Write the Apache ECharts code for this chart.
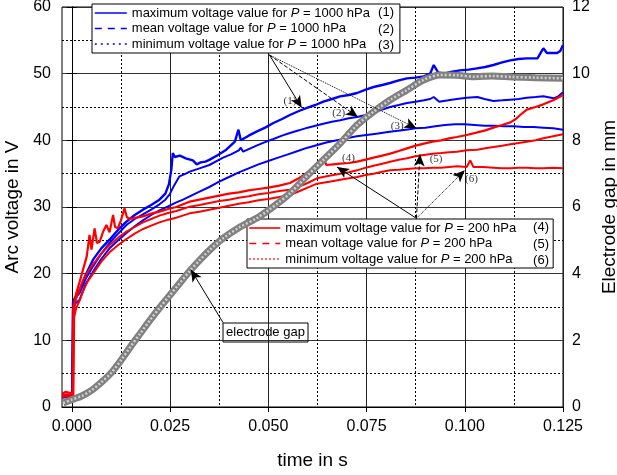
<!DOCTYPE html>
<html>
<head>
<meta charset="utf-8">
<script src="https://cdn.jsdelivr.net/npm/echarts@6/dist/echarts.min.js"></script>
<style>
html, body { margin: 0; padding: 0; background: #fff; }
#chart { width: 617px; height: 475px; }
</style>
</head>
<body>
<div id="chart"></div>
<script>
// time in s, arc voltage in V
const max1000 = [
  [-0.0025,1.6],[-0.0012,1.7],[0.0001,1.6],[0.0003,15.8],[0.0008,16.4],[0.002,17.6],[0.0035,19.8],[0.0054,22.1],
  [0.0075,23.8],[0.0096,25.1],[0.0118,26.6],[0.0139,27.8],[0.016,28.8],[0.0181,29.6],[0.0202,30.3],[0.0223,31.1],
  [0.0238,32.0],[0.0247,33.4],[0.0253,35.5],[0.0257,38.1],[0.0262,37.5],[0.0275,37.7],[0.029,37.3],[0.0308,37.0],
  [0.0318,36.4],[0.0328,36.7],[0.034,36.8],[0.0351,37.1],[0.0372,37.8],[0.0393,38.6],[0.0415,39.8],[0.0424,41.6],
  [0.043,40.0],[0.045,40.7],[0.047,41.3],[0.0492,41.9],[0.0513,42.6],[0.0535,43.2],[0.0555,43.8],[0.0578,44.4],
  [0.060,44.9],[0.062,45.3],[0.064,45.8],[0.0662,46.2],[0.0683,46.6],[0.0705,46.8],[0.0726,47.1],[0.0748,47.6],
  [0.0768,48.0],[0.079,48.3],[0.081,48.6],[0.0832,49.0],[0.0853,49.3],[0.0875,49.4],[0.0896,49.6],[0.0912,50.0],
  [0.0921,51.3],[0.0932,50.2],[0.0947,50.0],[0.0968,50.3],[0.0988,50.5],[0.101,50.6],[0.1031,50.8],[0.1052,51.0],
  [0.1073,51.3],[0.1095,51.7],[0.1116,52.0],[0.1137,52.2],[0.1158,52.3],[0.1185,52.3],[0.1195,53.3],[0.120,53.8],
  [0.1209,53.1],[0.1235,53.1],[0.1243,53.4],[0.125,54.3]
];
const mean1000 = [
  [-0.0025,1.5],[-0.0012,1.6],[0.0001,1.5],[0.0003,15.2],[0.0008,16.2],[0.002,17.1],[0.0035,19.2],[0.0054,21.1],
  [0.0075,23.0],[0.0096,24.6],[0.0118,26.0],[0.0139,27.3],[0.016,28.2],[0.0181,28.9],[0.0202,29.6],[0.0223,30.4],
  [0.0238,31.1],[0.0249,31.9],[0.026,33.2],[0.0274,34.6],[0.029,35.0],[0.030,35.3],[0.0325,35.8],[0.035,36.3],
  [0.0385,37.4],[0.0405,37.9],[0.0425,38.5],[0.043,38.9],[0.0436,38.3],[0.047,39.2],[0.049,39.7],[0.0513,40.2],
  [0.0535,40.7],[0.0555,41.1],[0.0578,41.5],[0.060,41.9],[0.062,42.2],[0.064,42.5],[0.0662,42.8],[0.0683,43.0],
  [0.0705,43.3],[0.0726,43.5],[0.0748,43.8],[0.0768,44.2],[0.079,44.6],[0.081,45.0],[0.0832,45.3],[0.0853,45.6],
  [0.0875,45.8],[0.0896,46.0],[0.0912,46.2],[0.0921,46.5],[0.0935,45.8],[0.0958,46.0],[0.098,46.2],[0.1005,46.4],
  [0.1032,46.5],[0.105,46.2],[0.1073,45.9],[0.1095,46.0],[0.1116,46.1],[0.1137,46.2],[0.1158,46.4],[0.118,46.5],
  [0.120,46.6],[0.1226,46.3],[0.1238,46.6],[0.125,47.2]
];
const min1000 = [
  [-0.0025,1.4],[-0.0012,1.5],[0.0001,1.4],[0.0004,14.6],[0.0008,15.5],[0.002,16.1],[0.0035,18.4],[0.0054,20.3],
  [0.0075,22.2],[0.0096,23.8],[0.0118,25.0],[0.0139,26.1],[0.016,27.1],[0.0181,28.0],[0.0202,28.8],[0.0223,29.5],
  [0.0245,30.1],[0.0266,30.7],[0.0283,31.1],[0.030,31.6],[0.0325,32.3],[0.035,33.0],[0.0375,33.8],[0.040,34.5],
  [0.0425,35.2],[0.045,35.8],[0.0475,36.4],[0.050,36.9],[0.0525,37.4],[0.055,37.9],[0.0575,38.4],[0.060,38.9],
  [0.0625,39.3],[0.065,39.7],[0.0675,40.0],[0.070,40.3],[0.0725,40.6],[0.075,40.8],[0.0775,41.0],[0.080,41.2],
  [0.0825,41.4],[0.085,41.6],[0.0875,41.8],[0.090,41.9],[0.0925,42.1],[0.095,42.3],[0.0975,42.4],[0.100,42.4],
  [0.1025,42.3],[0.105,42.2],[0.1075,42.2],[0.110,42.1],[0.1125,42.1],[0.115,42.0],[0.1175,42.0],[0.120,41.9],
  [0.1225,41.8],[0.125,41.6]
];
const max200 = [
  [-0.0025,2.0],[-0.0015,2.3],[-0.0005,2.1],[0.0002,2.2],[0.0004,15.0],[0.0011,17.0],[0.002,18.8],[0.0028,20.5],
  [0.0038,22.6],[0.0045,25.8],[0.005,23.6],[0.0058,26.8],[0.0064,24.6],[0.0071,24.8],[0.0079,26.2],[0.0088,27.3],
  [0.0096,26.2],[0.0105,28.8],[0.011,27.0],[0.0117,26.8],[0.0125,28.0],[0.0134,29.8],[0.014,28.5],[0.0147,28.2],
  [0.0164,28.4],[0.0181,28.6],[0.0202,29.0],[0.0223,29.3],[0.0245,29.7],[0.0266,30.0],[0.0283,30.4],[0.030,30.8],
  [0.0325,31.1],[0.035,31.4],[0.0375,31.7],[0.040,32.0],[0.0425,32.2],[0.045,32.5],[0.0475,32.7],[0.050,32.9],
  [0.0528,33.2],[0.0555,33.6],[0.058,34.4],[0.061,35.6],[0.0625,36.0],[0.0635,36.4],[0.064,37.3],[0.0648,36.3],
  [0.0665,36.4],[0.0683,36.5],[0.0705,36.6],[0.0726,36.8],[0.0748,37.1],[0.0768,37.4],[0.079,37.7],[0.081,38.0],
  [0.0832,38.4],[0.0853,38.8],[0.0875,39.2],[0.0896,39.5],[0.0918,39.8],[0.094,40.0],[0.096,40.3],[0.098,40.5],
  [0.1005,40.8],[0.1032,41.2],[0.1052,41.5],[0.1073,41.9],[0.1095,42.3],[0.1116,42.7],[0.113,43.2],[0.1141,43.8],
  [0.1158,44.6],[0.118,45.0],[0.120,45.4],[0.1225,46.0],[0.125,46.8]
];
const mean200 = [
  [-0.0025,1.8],[-0.0012,1.9],[0.0003,1.8],[0.0005,14.5],[0.0011,16.3],[0.002,17.6],[0.0028,18.9],[0.004,20.2],
  [0.0054,21.4],[0.0075,23.0],[0.0096,24.3],[0.0118,25.4],[0.0139,26.3],[0.016,27.0],[0.0181,27.7],[0.0202,28.2],
  [0.0223,28.7],[0.0245,29.1],[0.0266,29.4],[0.030,30.05],[0.0325,30.3],[0.035,30.6],[0.0375,30.9],[0.040,31.1],
  [0.0425,31.4],[0.045,31.6],[0.0475,31.9],[0.050,32.1],[0.0528,32.4],[0.0555,32.6],[0.058,33.1],[0.060,33.6],
  [0.0624,34.3],[0.0655,34.7],[0.0683,35.0],[0.0705,35.2],[0.0726,35.5],[0.0748,35.9],[0.0768,36.2],[0.079,36.5],
  [0.081,36.8],[0.0832,37.1],[0.0853,37.3],[0.0875,37.6],[0.0896,37.8],[0.0918,38.0],[0.094,38.1],[0.096,38.2],
  [0.098,38.3],[0.1005,38.5],[0.1032,38.6],[0.1052,38.8],[0.1073,39.0],[0.1095,39.2],[0.1116,39.4],[0.1137,39.6],
  [0.1158,39.8],[0.118,40.0],[0.120,40.3],[0.1225,40.6],[0.125,40.9]
];
const min200 = [
  [-0.0025,1.5],[-0.0012,1.6],[0.0004,1.5],[0.0006,13.5],[0.0011,14.8],[0.002,16.0],[0.0028,17.3],[0.004,18.8],
  [0.0054,20.0],[0.0075,21.8],[0.0096,23.2],[0.0118,24.3],[0.0139,25.2],[0.016,26.0],[0.0181,26.7],[0.0202,27.2],
  [0.0223,27.7],[0.0245,28.1],[0.0266,28.4],[0.030,29.05],[0.0325,29.3],[0.035,29.6],[0.0375,29.9],[0.040,30.2],
  [0.0425,30.5],[0.045,30.7],[0.0475,31.0],[0.050,31.2],[0.0528,31.5],[0.0555,31.8],[0.058,32.4],[0.060,32.9],
  [0.0624,33.5],[0.0655,33.8],[0.0683,34.1],[0.0705,34.3],[0.0726,34.5],[0.0748,34.8],[0.0768,35.0],[0.079,35.3],
  [0.081,35.5],[0.0832,35.6],[0.0853,35.7],[0.0875,35.8],[0.0896,35.8],[0.0918,35.9],[0.094,35.9],[0.096,36.0],
  [0.098,36.1],[0.1005,36.0],[0.1014,37.0],[0.1022,36.0],[0.1048,36.0],[0.1073,35.9],[0.1095,35.8],[0.1116,35.8],
  [0.1137,35.9],[0.1158,35.9],[0.118,35.8],[0.120,35.8],[0.1225,35.9],[0.125,35.8]
];
// time in s, electrode gap in mm
const electrodeGap = [
  [-0.0022,0.12],[0.000,0.22],[0.0025,0.33],[0.005,0.5],[0.0075,0.74],[0.010,1.02],[0.0125,1.4],[0.015,1.82],
  [0.0175,2.22],[0.020,2.62],[0.0225,3.0],[0.025,3.36],[0.0275,3.72],[0.030,4.08],[0.0325,4.4],[0.035,4.7],
  [0.0385,5.06],[0.0425,5.38],[0.047,5.66],[0.050,5.9],[0.0525,6.12],[0.0555,6.41],[0.060,6.95],[0.064,7.41],
  [0.0683,7.91],[0.0726,8.46],[0.0768,8.86],[0.081,9.21],[0.0853,9.51],[0.0895,9.81],[0.0938,9.96],[0.098,9.95],
  [0.1023,9.91],[0.107,9.93],[0.112,9.9],[0.118,9.88],[0.125,9.86]
];

const xMajorTicks = [0, 0.025, 0.05, 0.075, 0.1, 0.125];
const xMinorTicks = [0.0125, 0.0375, 0.0625, 0.0875, 0.1125];

const legendLabels = {
  max1000: ['maximum voltage value for ', ' = 1000 hPa', '(1)'],
  mean1000: ['mean voltage value for ', ' = 1000 hPa', '(2)'],
  min1000: ['minimum voltage value for ', ' = 1000 hPa', '(3)'],
  max200: ['maximum voltage value for ', ' = 200 hPa', '(4)'],
  mean200: ['mean voltage value for ', ' = 200 hPa', '(5)'],
  min200: ['minimum voltage value for ', ' = 200 hPa', '(6)']
};

// annotation arrows (t, V): start -> tip
const arrows1000 = [
  { from: [0.0503, 52.8], to: [0.0585, 44.9], type: 'solid' },
  { from: [0.0503, 52.8], to: [0.0728, 43.5], type: 'dashed' },
  { from: [0.0503, 52.8], to: [0.0877, 41.8], type: 'dotted' }
];
const arrows200 = [
  { from: [0.0877, 28.3], to: [0.0675, 36.0], type: 'solid' },
  { from: [0.0877, 28.3], to: [0.0886, 37.9], type: 'dashed' },
  { from: [0.0877, 28.3], to: [0.1000, 35.5], type: 'dotted' }
];
const gapArrow = [{ from: [0.0385, 12.65], to: [0.0303, 20.6], type: 'solid' }];
const curveTags = [
  [0.0555, 45.9, '(1)'], [0.0679, 44.05, '(2)'], [0.0828, 42.2, '(3)'],
  [0.0704, 37.4, '(4)'], [0.0927, 37.15, '(5)'], [0.1017, 34.15, '(6)']
];

const FONT = 'Liberation Sans, Arial, sans-serif';
const BLUE = '#0000ff';
const RED = '#ff0000';

function voltageSeries(name, data, color, width) {
  return {
    name: name, type: 'line', data: data, symbol: 'none',
    xAxisIndex: 0, yAxisIndex: 0,
    lineStyle: { color: color, width: width },
    itemStyle: { color: color },
    z: 3
  };
}

function legendItem(name, color, dash) {
  return {
    name: name,
    lineStyle: { color: color, width: 1.6, type: dash },
    itemStyle: { color: 'rgba(0,0,0,0)', borderWidth: 0, opacity: 0 }
  };
}

function legendFormatter(name) {
  const p = legendLabels[name];
  return '{t|' + p[0] + '}{i|P}{t|' + p[1] + '}';
}

const legendRich = {
  t: { fontFamily: FONT, fontSize: 13, color: '#000' },
  i: { fontFamily: FONT, fontSize: 13, fontStyle: 'italic', color: '#000' }
};

const arrowLines = arrows1000.concat(arrows200, gapArrow).map(a => [
  { coord: a.from, symbol: 'none', lineStyle: { type: a.type, color: '#000', width: 1 } },
  { coord: a.to, symbol: 'arrow', lineStyle: { type: a.type, color: '#000', width: 1 } }
]);

const chart = echarts.init(document.getElementById('chart'), null, { renderer: 'canvas' });

chart.setOption({
  animation: false,
  backgroundColor: '#fff',
  grid: {
    left: 62, right: 54, top: 7, bottom: 68,
    show: true, borderColor: '#000', borderWidth: 1,
    containLabel: false, outerBoundsMode: 'none'
  },
  xAxis: [
    {
      type: 'value', min: -0.0025, max: 0.125, position: 'bottom',
      name: 'time in s', nameLocation: 'middle', nameGap: 44,
      nameTextStyle: { fontFamily: FONT, fontSize: 19, color: '#000' },
      axisLine: { onZero: false, lineStyle: { color: '#000', width: 1 } },
      axisTick: { customValues: xMajorTicks, length: 5, inside: false, lineStyle: { color: '#000' } },
      axisLabel: { customValues: xMajorTicks, formatter: v => v.toFixed(3), fontFamily: FONT, fontSize: 16, color: '#000', margin: 12 },
      splitLine: { show: true, lineStyle: { color: '#222', width: 1 } }
    },
    {
      type: 'value', min: -0.0025, max: 0.125, position: 'top',
      axisLine: { show: false },
      axisTick: { show: false, customValues: xMinorTicks },
      axisLabel: { show: false, customValues: xMinorTicks },
      splitLine: { show: true, lineStyle: { color: '#000', width: 1, type: [2, 2] } }
    }
  ],
  yAxis: [
    {
      type: 'value', min: 0, max: 60, interval: 10, position: 'left',
      name: 'Arc voltage in V', nameLocation: 'middle', nameGap: 27,
      nameTextStyle: { fontFamily: FONT, fontSize: 19, color: '#000' },
      axisLine: { show: true, lineStyle: { color: '#000', width: 1 } },
      axisTick: { show: true, length: 5, inside: false, lineStyle: { color: '#000' } },
      axisLabel: { fontFamily: FONT, fontSize: 16, color: '#000', margin: 11 },
      splitLine: { show: true, lineStyle: { color: '#333', width: 1 } },
      minorTick: { show: false, splitNumber: 2 },
      minorSplitLine: { show: true, lineStyle: { color: '#000', width: 1, type: [2, 2] } }
    },
    {
      type: 'value', min: 0, max: 12, interval: 2, position: 'right',
      name: 'Electrode gap in mm', nameLocation: 'middle', nameGap: 29,
      nameTextStyle: { fontFamily: FONT, fontSize: 19, color: '#000' },
      axisLine: { show: true, lineStyle: { color: '#000', width: 1 } },
      axisTick: { show: true, length: 5, inside: false, lineStyle: { color: '#000' } },
      axisLabel: { fontFamily: FONT, fontSize: 16, color: '#000', margin: 9 },
      splitLine: { show: false }
    }
  ],
  legend: [
    {
      left: 92, top: 4, orient: 'vertical',
      itemWidth: 32, itemHeight: 14, itemGap: 2.5,
      padding: [2.5, 30, 2.5, 2],
      backgroundColor: '#fff', borderColor: '#000', borderWidth: 1, borderRadius: 0,
      selectedMode: false,
      data: [
        legendItem('max1000', BLUE, 'solid'),
        legendItem('mean1000', BLUE, [7, 6]),
        legendItem('min1000', BLUE, [2, 4])
      ],
      formatter: legendFormatter,
      textStyle: { rich: legendRich }
    },
    {
      left: 247, top: 219, orient: 'vertical',
      itemWidth: 31, itemHeight: 14, itemGap: 2.5,
      padding: [2.5, 37, 2.5, 1.5],
      backgroundColor: '#fff', borderColor: '#000', borderWidth: 1, borderRadius: 0,
      selectedMode: false,
      data: [
        legendItem('max200', RED, 'solid'),
        legendItem('mean200', RED, [7, 6]),
        legendItem('min200', RED, [1.5, 2.5])
      ],
      formatter: legendFormatter,
      textStyle: { rich: legendRich }
    }
  ],
  series: [
    voltageSeries('min1000', min1000, BLUE, 2),
    voltageSeries('mean1000', mean1000, BLUE, 2),
    voltageSeries('max1000', max1000, BLUE, 2.4),
    voltageSeries('min200', min200, RED, 2),
    voltageSeries('mean200', mean200, RED, 2),
    voltageSeries('max200', max200, RED, 2.2),
    {
      name: 'electrode gap', type: 'line', data: electrodeGap, symbol: 'none', smooth: 0.3,
      xAxisIndex: 0, yAxisIndex: 1,
      lineStyle: { color: '#808080', width: 7 }, z: 4
    },
    {
      name: 'electrode gap texture', type: 'line', data: electrodeGap, symbol: 'none', smooth: 0.3,
      xAxisIndex: 0, yAxisIndex: 1, silent: true,
      lineStyle: { color: '#d0d0d0', width: 2.5, type: [2, 2] }, z: 4
    },
    {
      name: 'annotations', type: 'scatter', data: curveTags, symbolSize: 0,
      xAxisIndex: 0, yAxisIndex: 0, silent: true, z: 5,
      label: {
        show: true, position: 'inside', formatter: p => p.data[2],
        fontFamily: 'Liberation Serif, DejaVu Serif, serif', fontSize: 11, color: '#000'
      },
      markLine: {
        silent: true, symbol: ['none', 'arrow'], symbolSize: [8, 12],
        label: { show: false },
        lineStyle: { color: '#000', width: 1 },
        data: arrowLines
      }
    }
  ],
  graphic: [
    { type: 'text', right: 617 - 394, top: 6, z: 10, style: { text: '(1)', font: '13px ' + FONT, fill: '#000' } },
    { type: 'text', right: 617 - 394, top: 22.5, z: 10, style: { text: '(2)', font: '13px ' + FONT, fill: '#000' } },
    { type: 'text', right: 617 - 394, top: 39, z: 10, style: { text: '(3)', font: '13px ' + FONT, fill: '#000' } },
    { type: 'text', right: 617 - 549, top: 221, z: 10, style: { text: '(4)', font: '13px ' + FONT, fill: '#000' } },
    { type: 'text', right: 617 - 549, top: 237.5, z: 10, style: { text: '(5)', font: '13px ' + FONT, fill: '#000' } },
    { type: 'text', right: 617 - 549, top: 254, z: 10, style: { text: '(6)', font: '13px ' + FONT, fill: '#000' } },
    {
      type: 'group', left: 222.5, top: 322.5, z: 10,
      children: [
        { type: 'rect', shape: { x: 0, y: 0, width: 85, height: 19 }, style: { fill: '#fff', stroke: '#000', lineWidth: 1 } },
        { type: 'text', x: 42.5, y: 9.5, style: { text: 'electrode gap', font: '13px ' + FONT, fill: '#000', align: 'center', verticalAlign: 'middle' } }
      ]
    }
  ]
});
</script>
</body>
</html>
